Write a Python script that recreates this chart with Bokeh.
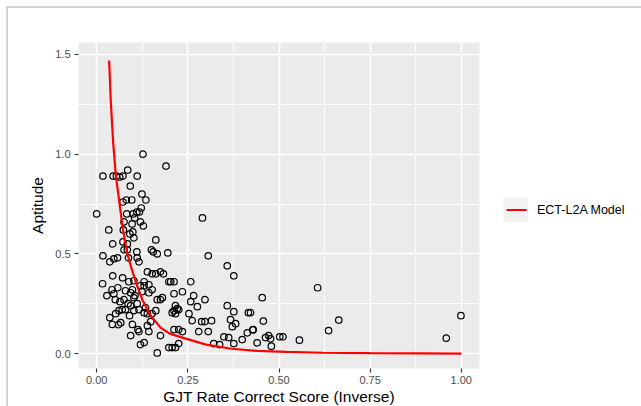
from bokeh.plotting import figure
from bokeh.models import ColumnDataSource, FixedTicker, Range1d, Legend, LegendItem
from bokeh.embed import file_html
from bokeh.resources import INLINE

# ---- data ----
gjt_score = [
    0.127, 0.19, 0.017, 0.045, 0.054, 0.063, 0.072, 0.085, 0.111, 0.092, 0.124, 0.135,
    0.072, 0.081, 0.096, 0.0, 0.122, 0.082, 0.10, 0.11, 0.117, 0.075, 0.104, 0.12,
    0.128, 0.097, 0.073, 0.033, 0.091, 0.102, 0.099, 0.162, 0.044, 0.072, 0.084, 0.11,
    0.15, 0.155, 0.084, 0.075, 0.29,
    0.017, 0.036, 0.047, 0.057, 0.087, 0.111, 0.116, 0.166, 0.195,
    0.016, 0.044, 0.071, 0.088, 0.102, 0.13, 0.139, 0.152, 0.162, 0.175, 0.183, 0.198,
    0.042, 0.047, 0.051, 0.075, 0.079, 0.093, 0.098, 0.12, 0.13, 0.143, 0.152, 0.166, 0.175, 0.18,
    0.102, 0.111, 0.093, 0.07, 0.061, 0.052, 0.079, 0.102, 0.116, 0.134, 0.139, 0.13, 0.152, 0.162,
    0.043, 0.066, 0.098, 0.113, 0.139, 0.143, 0.148, 0.116, 0.093, 0.12, 0.13, 0.166, 0.175, 0.198,
    0.306, 0.358, 0.376,
    0.203, 0.212, 0.258, 0.212, 0.235, 0.258, 0.266, 0.276, 0.297,
    0.221, 0.212, 0.207, 0.225, 0.216, 0.216,
    0.253, 0.262, 0.288, 0.297, 0.315, 0.358, 0.376, 0.416, 0.367, 0.381, 0.372, 0.28, 0.306,
    0.225, 0.212, 0.235,
    0.321, 0.337, 0.349, 0.362, 0.376, 0.399, 0.413, 0.428,
    0.207, 0.216, 0.225,
    0.422, 0.454, 0.606, 0.457, 0.429, 0.664, 0.636, 0.44, 0.463, 0.472, 0.477, 0.479,
    0.502, 0.511, 0.556, 0.999, 0.959,
    0.028, 0.036, 0.058, 0.064, 0.086, 0.105, 0.124, 0.143, 0.06, 0.09,
]
aptitude = [
    1.00, 0.94, 0.89, 0.89, 0.89, 0.885, 0.89, 0.92, 0.89, 0.84, 0.80, 0.77,
    0.76, 0.77, 0.77, 0.70, 0.73, 0.70, 0.70, 0.71, 0.71, 0.66, 0.68, 0.66,
    0.64, 0.65, 0.62, 0.62, 0.60, 0.58, 0.61, 0.57, 0.55, 0.56, 0.55, 0.51,
    0.52, 0.51, 0.52, 0.52, 0.68,
    0.49, 0.46, 0.475, 0.48, 0.48, 0.48, 0.46, 0.50, 0.505,
    0.35, 0.39, 0.38, 0.36, 0.365, 0.36, 0.41, 0.40, 0.40, 0.41, 0.40, 0.36,
    0.32, 0.30, 0.27, 0.27, 0.315, 0.305, 0.32, 0.34, 0.34, 0.305, 0.32, 0.27, 0.27, 0.28,
    0.28, 0.25, 0.24, 0.22, 0.215, 0.20, 0.22, 0.215, 0.22, 0.23, 0.20, 0.205, 0.20, 0.215,
    0.146, 0.155, 0.146, 0.12, 0.14, 0.11, 0.16, 0.11, 0.09, 0.045, 0.055, 0.003, 0.09, 0.03,
    0.49, 0.44, 0.39,
    0.36, 0.36, 0.36, 0.30, 0.31, 0.26, 0.29, 0.235, 0.27,
    0.225, 0.215, 0.205, 0.22, 0.20, 0.24,
    0.20, 0.165, 0.16, 0.16, 0.165, 0.24, 0.21, 0.205, 0.17, 0.15, 0.135, 0.11, 0.11,
    0.12, 0.12, 0.11,
    0.05, 0.045, 0.084, 0.08, 0.05, 0.07, 0.104, 0.118,
    0.03, 0.03, 0.05,
    0.205, 0.28, 0.33, 0.163, 0.12, 0.168, 0.115, 0.054, 0.08, 0.09, 0.074, 0.037,
    0.084, 0.084, 0.067, 0.19, 0.077,
    0.29, 0.18, 0.33, 0.26, 0.25, 0.29, 0.31, 0.345, 0.145, 0.19,
]

model_x = [0.034, 0.039, 0.045, 0.052, 0.062, 0.072, 0.084, 0.095, 0.107, 0.125, 0.148,
           0.175, 0.20, 0.244, 0.30, 0.37, 0.44, 0.52, 0.62, 0.75, 0.88, 1.0]
model_y = [1.47, 1.25, 1.06, 0.90, 0.76, 0.62, 0.50, 0.43, 0.36, 0.27, 0.19,
           0.13, 0.10, 0.075, 0.045, 0.024, 0.013, 0.008, 0.004, 0.002, 0.001, 0.0]

x_ticks = [0.0, 0.25, 0.5, 0.75, 1.0]
x_tick_labels = ["0.00", "0.25", "0.50", "0.75", "1.00"]
x_minor = [-0.125, 0.125, 0.375, 0.625, 0.875, 1.125]
y_ticks = [0.0, 0.5, 1.0, 1.5]
y_tick_labels = ["0.0", "0.5", "1.0", "1.5"]
y_minor = [-0.25, 0.25, 0.75, 1.25, 1.75]

FONT = "Liberation Sans"

p = figure(frame_width=401, frame_height=326, output_backend="svg", toolbar_location=None,
           x_range=Range1d(-0.05, 1.05), y_range=Range1d(-0.075, 1.56),
           min_border_left=78, min_border_right=162, min_border_top=42, min_border_bottom=38)

p.background_fill_color = "#EBEBEB"
p.border_fill_alpha = 0
# thin grey frame of the original screenshot (drawn behind the transparent border area)
p.styles = {
    "background": ("linear-gradient(#d4d4d4,#d4d4d4) 7px 6px / 634px 2px no-repeat, "
                   "linear-gradient(#d4d4d4,#d4d4d4) 6px 6px / 2px 400px no-repeat, white"),
}
p.outline_line_color = None

src = ColumnDataSource(dict(x=gjt_score, y=aptitude))
p.scatter("x", "y", source=src, size=6.5, marker="circle", fill_color=None,
          line_color="black", line_width=1.2)

msrc = ColumnDataSource(dict(x=model_x, y=model_y))
p.line("x", "y", source=msrc, line_color="#FF0000", line_width=2.2)

# axes
p.xaxis.ticker = FixedTicker(ticks=x_ticks, minor_ticks=x_minor)
p.yaxis.ticker = FixedTicker(ticks=y_ticks, minor_ticks=y_minor)
p.xaxis.major_label_overrides = dict(zip(x_ticks, x_tick_labels))
p.yaxis.major_label_overrides = dict(zip(y_ticks, y_tick_labels))
for ax in (p.xaxis, p.yaxis):
    ax.axis_line_color = None
    ax.major_tick_line_color = "#333333"
    ax.major_tick_line_width = 1.1
    ax.major_tick_out = 4
    ax.major_tick_in = 0
    ax.minor_tick_line_color = None
    ax.major_label_text_font = FONT
    ax.major_label_text_font_size = "11px"
    ax.major_label_text_color = "#4D4D4D"
    ax.axis_label_text_font = FONT
    ax.axis_label_text_font_size = "15.5px"
    ax.axis_label_text_font_style = "normal"
    ax.axis_label_text_color = "black"
p.xaxis.axis_label = "GJT Rate Correct Score (Inverse)"
p.yaxis.axis_label = "Aptitude"
p.xaxis.major_label_standoff = 3
p.xaxis.axis_label_standoff = 1
p.yaxis.major_label_standoff = 4
p.yaxis.axis_label_standoff = 6

for g in (p.xgrid, p.ygrid):
    g.grid_line_color = "white"
    g.grid_line_width = 1.6
    g.minor_grid_line_color = "white"
    g.minor_grid_line_width = 0.8

# legend key renderers: same model data on an off-screen range, so only the key shows
p.extra_y_ranges = {"key": Range1d(100, 200)}
key_box = p.line("x", "y", source=msrc, y_range_name="key",
                 line_color="#F2F2F2", line_width=25)
key_line = p.line("x", "y", source=msrc, y_range_name="key",
                  line_color="#FF0000", line_width=2.2, line_dash="0 3 20 100")
legend = Legend(items=[LegendItem(label="ECT-L2A Model", renderers=[key_box, key_line])],
                location="left", glyph_width=25, glyph_height=25,
                padding=0, margin=24, border_line_color=None,
                background_fill_alpha=0, label_standoff=9,
                label_text_font=FONT, label_text_font_size="12.5px",
                label_text_color="black",
                title=" ", title_text_font_size="7px", title_standoff=2)
p.add_layout(legend, "right")

open("out.html", "w").write(file_html(p, INLINE))
